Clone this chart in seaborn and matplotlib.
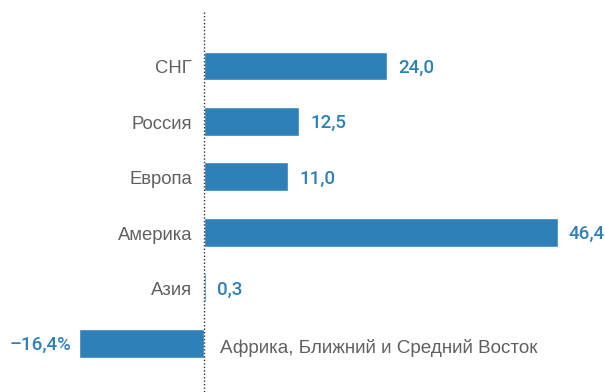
import matplotlib
matplotlib.use("Agg")
import matplotlib.pyplot as plt
import seaborn as sns
import pandas as pd

# Regional growth, %
regions = ["СНГ", "Россия", "Европа", "Америка", "Азия",
           "Африка, Ближний и Средний Восток"]
values = [24.0, 12.5, 11.0, 46.4, 0.3, -16.4]
value_labels = ["24,0", "12,5", "11,0", "46,4", "0,3", "–16,4%"]

BLUE = "#2e80b9"
GREY = "#606060"

sns.set_theme(style="white")
plt.rcParams["font.family"] = ["Liberation Sans", "DejaVu Sans"]

df = pd.DataFrame({"region": regions, "value": values})

fig = plt.figure(figsize=(6.05, 3.92), dpi=100)
ax = fig.add_axes([0, 0, 1, 1])

sns.barplot(data=df, x="value", y="region", orient="h", color=BLUE,
            saturation=1, width=0.52, ax=ax)

ax.set_xlim(-26.8, 52.6)
ax.set_ylim(5.88, -1.19)
ax.axis("off")

# dotted zero line
ax.plot([0, 0], [-0.975, 5.9], linestyle=(0, (1, 1.5)), color="#333333",
        linewidth=1.0, zorder=3, clip_on=False)

px = (52.6 + 26.8) / 605.0  # data units per pixel
val_font = dict(fontsize=13.5, color=BLUE, fontweight="medium",
                family=["Roboto", "DejaVu Sans"])
for i, (name, v, lab) in enumerate(zip(regions, values, value_labels)):
    if v >= 0:
        ax.text(-12 * px, i + 0.05, name, ha="right", va="center",
                fontsize=13.3, color=GREY)
        ax.text(v + 11 * px, i + 0.03, lab, ha="left", va="center",
                **val_font)
    else:
        ax.text(16 * px, i + 0.08, name, ha="left", va="center",
                fontsize=13.6, color=GREY)
        ax.text(v - 8 * px, i + 0.03, lab, ha="right", va="center",
                **val_font)

fig.savefig("out.png", dpi=100)
